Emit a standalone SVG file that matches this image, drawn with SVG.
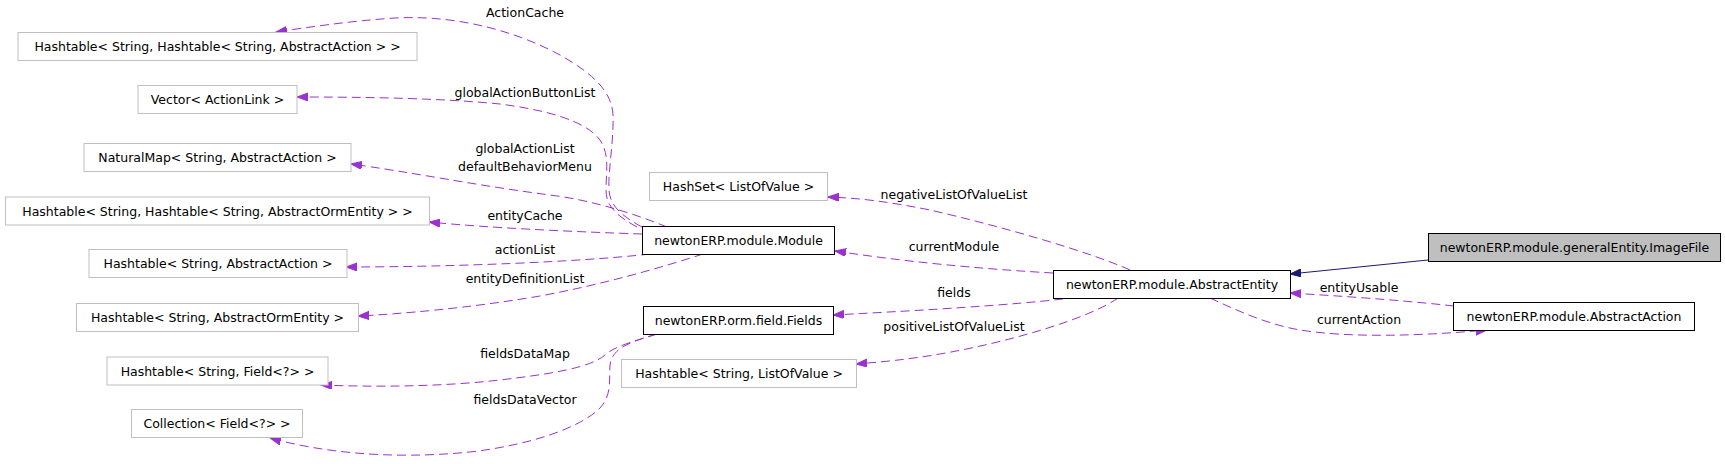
<svg xmlns="http://www.w3.org/2000/svg" width="1725" height="464" viewBox="0 0 1725 464">
<style>
text{font-family:"DejaVu Sans","Liberation Sans",sans-serif;font-size:12.5px;fill:#000;text-anchor:middle}
.ext rect{fill:#fff;stroke:#bfbfbf;stroke-width:1}
.cls rect{fill:#fff;stroke:#000;stroke-width:1}
.cur rect{fill:#bfbfbf;stroke:#000;stroke-width:1}
.use{fill:none;stroke:#9a32cd;stroke-width:1;stroke-dasharray:9,5}
.inh{fill:none;stroke:#191970;stroke-width:1}
</style>
<defs>
<marker id="ap" markerUnits="userSpaceOnUse" markerWidth="12" markerHeight="9" refX="11" refY="4" orient="auto">
<path d="M0,0 L11,4 L0,8 z" fill="#9a32cd" stroke="#9a32cd" stroke-width="1" stroke-dasharray="none"/>
</marker>
<marker id="ab" markerUnits="userSpaceOnUse" markerWidth="12" markerHeight="9" refX="11" refY="4" orient="auto">
<path d="M0,0 L11,4 L0,8 z" fill="#191970" stroke="#191970" stroke-width="1"/>
</marker>
</defs>
<rect width="1725" height="464" fill="#fff"/>
<g id="connectors">
<path class="use" marker-end="url(#ap)" d="M642,227 C620,215 610,205 609,190 C608,170 614,140 613,115 C612,90 590,72 560,55 C510,28 450,15 395,18 C350,21 310,27 276,32"/>
<path class="use" marker-end="url(#ap)" d="M637,227 C615,215 606,205 606,190 C606,172 610,155 600,140 C585,120 545,110 500,104 C440,98 360,97 297,97"/>
<path class="use" marker-end="url(#ap)" d="M667,227 C630,212 590,200 550,195 C480,186 410,172 351,164"/>
<path class="use" marker-end="url(#ap)" d="M642,234 C580,232 490,228 429,222"/>
<path class="use" marker-end="url(#ap)" d="M650,254 C580,262 450,267 346,267"/>
<path class="use" marker-end="url(#ap)" d="M703,254 C660,268 600,285 540,296 C470,308 400,314 358,316"/>
<path class="use" marker-end="url(#ap)" d="M657,334 C635,341 615,346 605,355 C590,368 550,374 500,380 C440,387 370,387 321,385"/>
<path class="use" marker-end="url(#ap)" d="M657,334 C630,342 612,348 610,365 C609,380 612,395 600,408 C580,428 530,445 470,452 C390,460 320,452 270,438"/>
<path class="use" marker-end="url(#ap)" d="M1130,270 C1090,252 1000,226 930,210 C890,202 860,198 828,197"/>
<path class="use" marker-end="url(#ap)" d="M1053,273 C1000,270 920,264 835,251"/>
<path class="use" marker-end="url(#ap)" d="M1063,299 C1010,305 930,310 833,315"/>
<path class="use" marker-end="url(#ap)" d="M1118,298 C1090,318 1010,342 940,354 C905,360 880,362 856,364"/>
<path class="use" marker-end="url(#ap)" d="M1454,306 C1400,300 1340,296 1290,293"/>
<path class="use" marker-end="url(#ap)" d="M1210,298 C1240,312 1270,325 1300,330 C1350,338 1420,336 1487,330"/>
<path class="inh" marker-end="url(#ab)" d="M1428,260 L1290,274"/>
<text x="525" y="17">ActionCache</text>
<text x="525" y="97">globalActionButtonList</text>
<text x="525" y="153">globalActionList</text>
<text x="525" y="171">defaultBehaviorMenu</text>
<text x="525" y="220">entityCache</text>
<text x="525" y="254">actionList</text>
<text x="525" y="283">entityDefinitionList</text>
<text x="525" y="358">fieldsDataMap</text>
<text x="525" y="404">fieldsDataVector</text>
<text x="954" y="199">negativeListOfValueList</text>
<text x="954" y="251">currentModule</text>
<text x="954" y="297">fields</text>
<text x="954" y="331">positiveListOfValueList</text>
<text x="1359" y="292">entityUsable</text>
<text x="1359" y="324">currentAction</text>
</g>
<g id="n_ht_aa2" class="ext"><rect x="18" y="32.5" width="399" height="28"/><text x="217.5" y="51">Hashtable&lt; String, Hashtable&lt; String, AbstractAction &gt; &gt;</text></g>
<g id="n_vector" class="ext"><rect x="138" y="85.5" width="159" height="28"/><text x="217.5" y="104">Vector&lt; ActionLink &gt;</text></g>
<g id="n_naturalmap" class="ext"><rect x="84" y="143.5" width="267" height="28"/><text x="217.5" y="162">NaturalMap&lt; String, AbstractAction &gt;</text></g>
<g id="n_ht_aoe2" class="ext"><rect x="5.5" y="197" width="424" height="28"/><text x="217.5" y="215.5">Hashtable&lt; String, Hashtable&lt; String, AbstractOrmEntity &gt; &gt;</text></g>
<g id="n_ht_aa" class="ext"><rect x="89" y="249.5" width="258" height="28"/><text x="218" y="268">Hashtable&lt; String, AbstractAction &gt;</text></g>
<g id="n_ht_aoe" class="ext"><rect x="76.5" y="303.5" width="282" height="28"/><text x="217.5" y="322">Hashtable&lt; String, AbstractOrmEntity &gt;</text></g>
<g id="n_ht_field" class="ext"><rect x="107" y="357" width="221" height="28"/><text x="217.5" y="375.5">Hashtable&lt; String, Field&lt;?&gt; &gt;</text></g>
<g id="n_collection" class="ext"><rect x="131.5" y="409.5" width="171" height="28"/><text x="217" y="428">Collection&lt; Field&lt;?&gt; &gt;</text></g>
<g id="n_hashset" class="ext"><rect x="649.5" y="172.5" width="178" height="28"/><text x="738.5" y="191">HashSet&lt; ListOfValue &gt;</text></g>
<g id="n_module" class="cls"><rect x="642.5" y="226.5" width="192" height="28"/><text x="738.5" y="245">newtonERP.module.Module</text></g>
<g id="n_fields" class="cls"><rect x="643.5" y="306.5" width="190" height="28"/><text x="738.5" y="325">newtonERP.orm.field.Fields</text></g>
<g id="n_ht_lov" class="ext"><rect x="621.5" y="359.5" width="235" height="28"/><text x="739" y="378">Hashtable&lt; String, ListOfValue &gt;</text></g>
<g id="n_abstractentity" class="cls"><rect x="1053.5" y="270.5" width="237" height="28"/><text x="1172" y="289">newtonERP.module.AbstractEntity</text></g>
<g id="n_imagefile" class="cur"><rect x="1428.5" y="233.5" width="292" height="28"/><text x="1574.5" y="252">newtonERP.module.generalEntity.ImageFile</text></g>
<g id="n_abstractaction" class="cls"><rect x="1453.5" y="302.5" width="241" height="28"/><text x="1574" y="321">newtonERP.module.AbstractAction</text></g>
</svg>
